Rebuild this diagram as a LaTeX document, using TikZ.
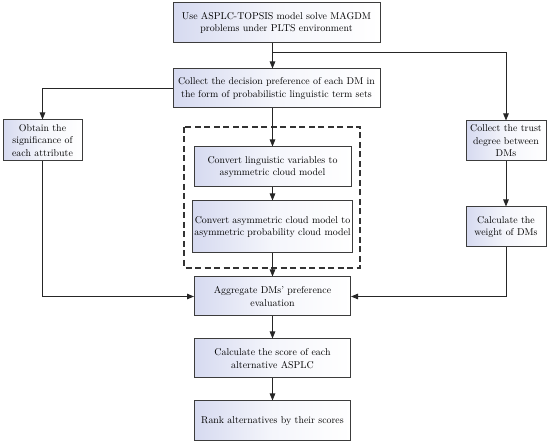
\documentclass[tikz,border=0pt]{standalone}
\usetikzlibrary{arrows.meta,calc}
\definecolor{boxfill}{RGB}{214,218,240}
\definecolor{boxline}{RGB}{60,60,60}
\begin{document}
\begin{tikzpicture}[x=1pt,y=-1pt,
  box/.style={draw=boxline, line width=1pt, rectangle, inner sep=2pt,
    left color=boxfill, right color=white, middle color=white!75!boxfill,
    align=center, font=\fontsize{9.9}{12.5}\selectfont},
  arr/.style={draw=black!85, line width=0.9pt, -{Triangle[length=7pt,width=5.5pt]}}]
\useasboundingbox (0,0) rectangle (550,446);

\node[box, minimum width=207, minimum height=40] (top) at (276.5,23)
  {Use ASPLC-TOPSIS model solve MAGDM\\problems under PLTS environment};
\node[box, minimum width=207, minimum height=39] (col) at (276.5,88.5)
  {Collect the decision preference of each DM in\\the form of probabilistic linguistic term sets};
\node[box, minimum width=79, minimum height=41] (obt) at (42.5,140.5)
  {Obtain the\\significance of\\each attribute};
\node[box, minimum width=80, minimum height=40] (tru) at (506,141)
  {Collect the trust\\degree between\\DMs};
\node[box, minimum width=80, minimum height=40] (wgt) at (506,227)
  {Calculate the\\weight of DMs};
\node[box, minimum width=157, minimum height=40] (cv1) at (272.5,167)
  {Convert linguistic variables to\\asymmetric cloud model};
\node[box, minimum width=157, minimum height=52] (cv2) at (272.5,227)
  {Convert asymmetric cloud model to\\asymmetric probability cloud model};
\node[box, minimum width=156, minimum height=39] (agg) at (272.5,296.5)
  {Aggregate DMs' preference\\evaluation};
\node[box, minimum width=156, minimum height=39] (sco) at (272.5,358.5)
  {Calculate the score of each\\alternative ASPLC};
\node[box, minimum width=156, minimum height=40] (rnk) at (272.5,421)
  {Rank alternatives by their scores};

\draw[dashed, dash pattern=on 6pt off 3.5pt, line width=1.4pt, draw=black!80]
  (184,127) rectangle (360,268);

\coordinate (br) at ($(top.south -| agg.north)+(0,9)$);
\draw[arr] (top.south -| agg.north) -- (col.north -| agg.north);
\draw[arr] (br) -| (tru.north);
\draw[arr] (col.west) -| (obt.north);
\draw[arr] (col.south -| agg.north) -- (cv1.north);
\draw[arr] (cv1.south) -- (cv2.north);
\draw[arr] (cv2.south) -- (agg.north);
\draw[arr] (obt.south) |- (agg.west);
\draw[arr] (tru.south) -- (wgt.north);
\draw[arr] (wgt.south) |- (agg.east);
\draw[arr] (agg.south) -- (sco.north);
\draw[arr] (sco.south) -- (rnk.north);
\end{tikzpicture}
\end{document}
